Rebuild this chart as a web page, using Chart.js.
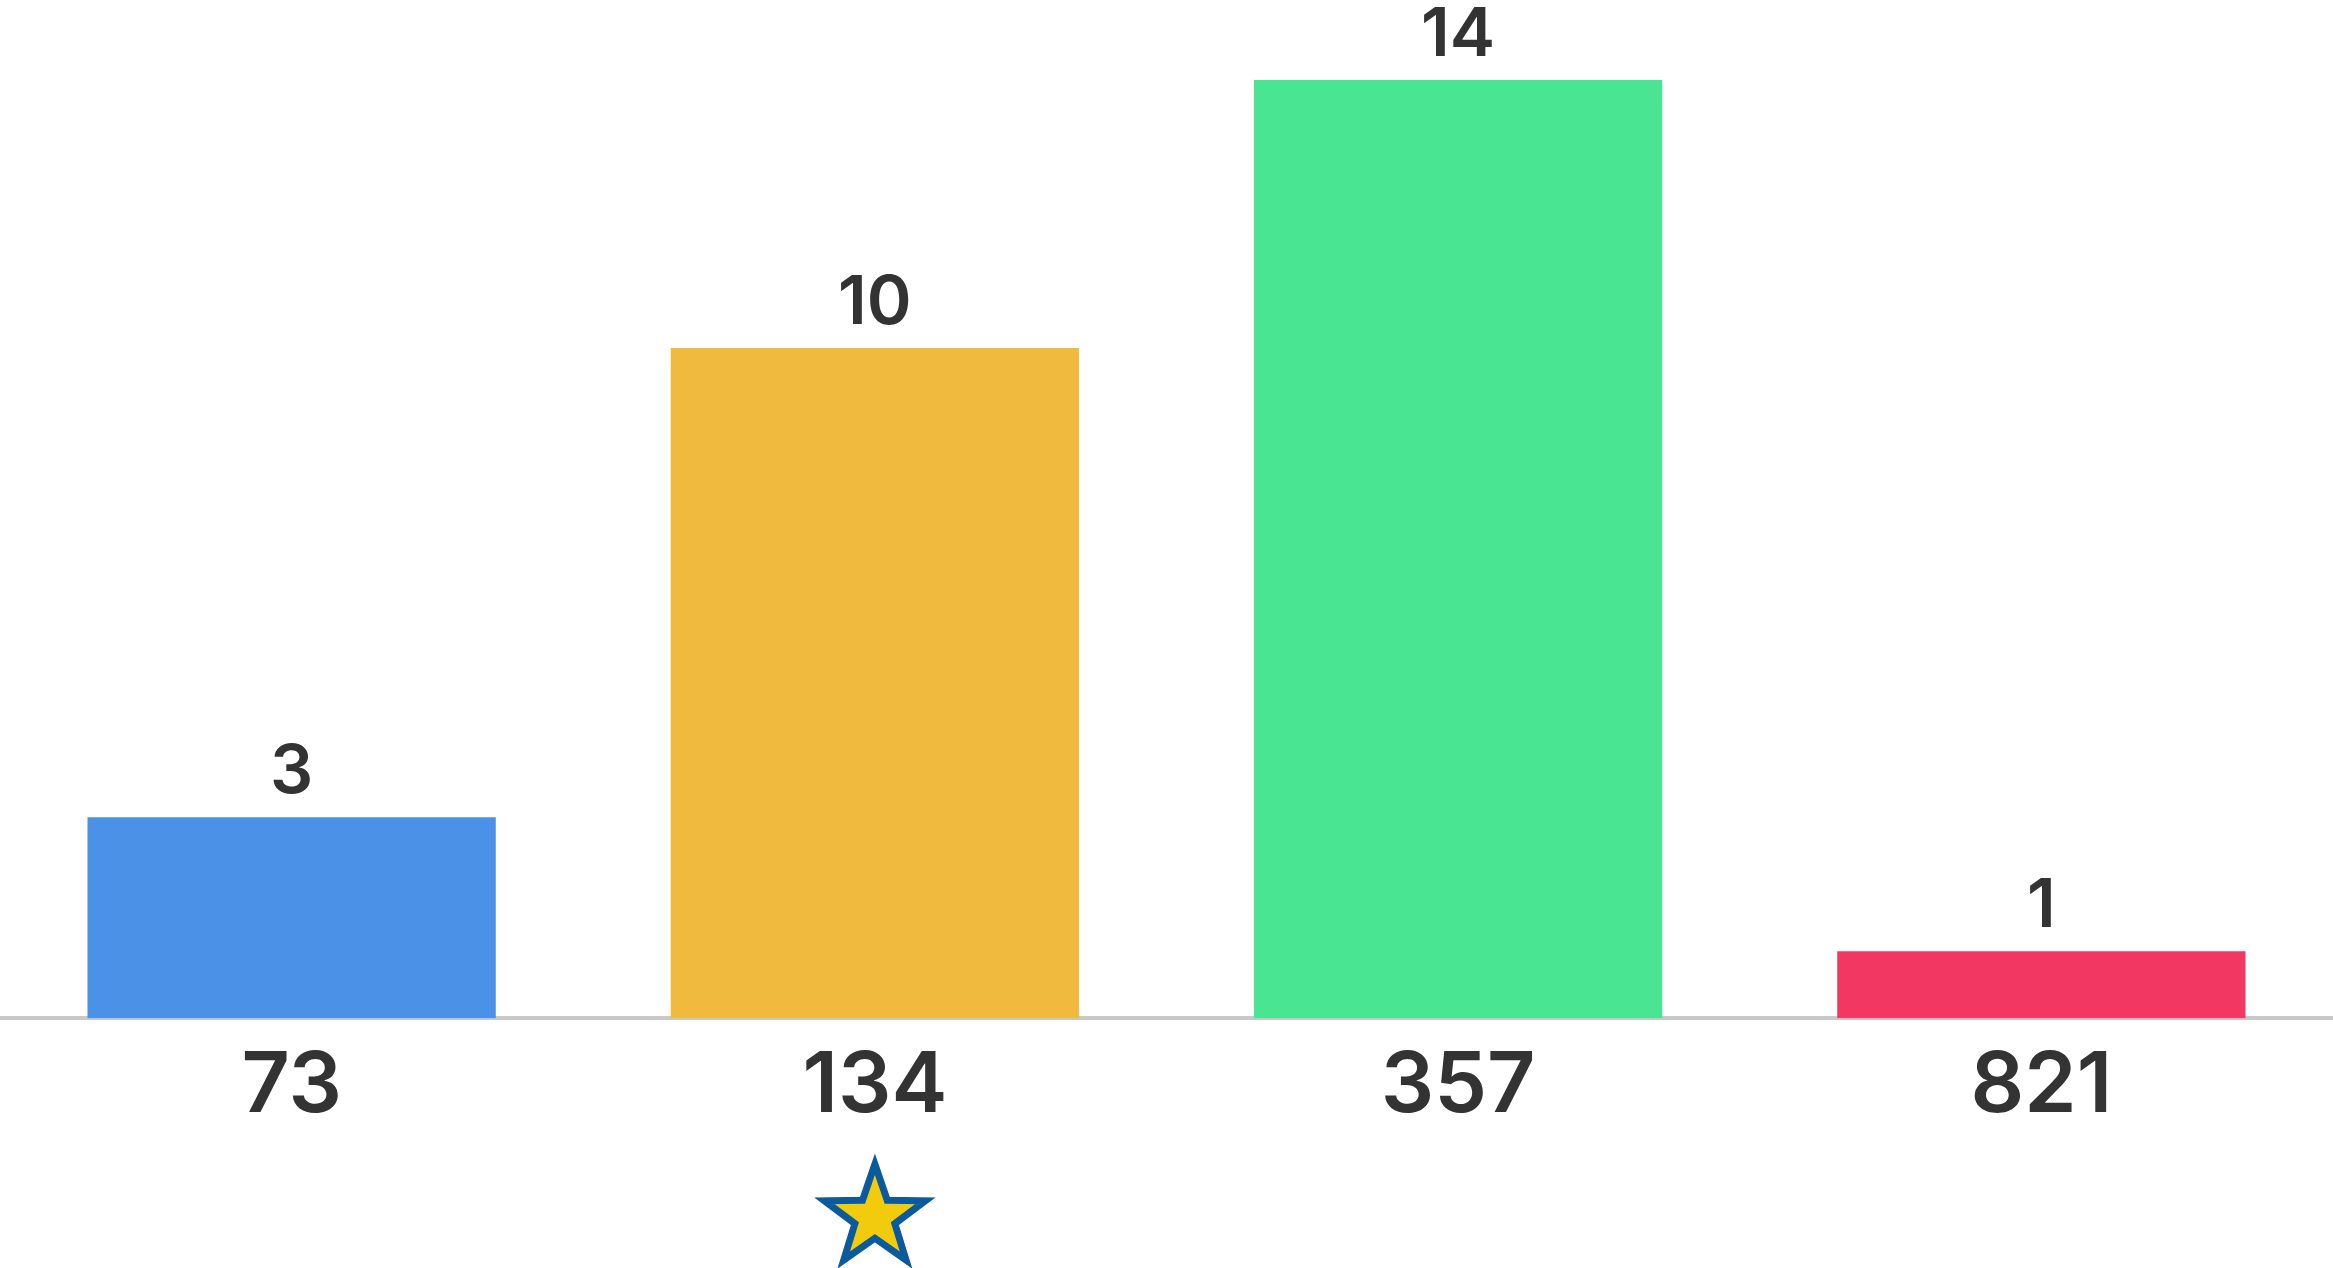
<!DOCTYPE html>
<html>
<head>
<meta charset="utf-8">
<title>Bar chart</title>
<script src="https://cdn.jsdelivr.net/npm/chart.js@4"></script>
<style>
    html, body { margin: 0; padding: 0; background: #ffffff; }
    #wrap { width: 2333px; height: 1268px; }
</style>
</head>
<body>
<div id="wrap"><canvas id="chart"></canvas></div>
<script>
// chart values
const categories = ["73", "134", "357", "821"];
const counts = [3, 10, 14, 1];
const barColors = ["#4a91e7", "#efba3e", "#49e593", "#f23862"];
const starredCategory = "134";

const FONT = "Inter, 'Noto Sans', sans-serif";

// numbers on top of the bars
const valueLabels = {
    id: "valueLabels",
    afterDatasetsDraw(chart) {
        const ctx = chart.ctx;
        const meta = chart.getDatasetMeta(0);
        ctx.save();
        ctx.font = "600 68px " + FONT;
        ctx.fillStyle = "#333333";
        ctx.textAlign = "center";
        ctx.textBaseline = "alphabetic";
        meta.data.forEach((bar, i) => {
            ctx.fillText(String(counts[i]), bar.x, bar.y - 24);
        });
        ctx.restore();
    }
};

// star under the highlighted category
const starMarker = {
    id: "starMarker",
    afterDraw(chart) {
        const idx = categories.indexOf(starredCategory);
        if (idx < 0) return;
        const ctx = chart.ctx;
        const cx = chart.scales.x.getPixelForValue(idx);
        const cy = chart.chartArea.bottom + 199;
        const outer = 53, inner = 21;
        ctx.save();
        ctx.beginPath();
        for (let k = 0; k < 10; k++) {
            const r = k % 2 === 0 ? outer : inner;
            const a = -Math.PI / 2 + k * Math.PI / 5;
            const px = cx + r * Math.cos(a);
            const py = cy + r * Math.sin(a);
            if (k === 0) ctx.moveTo(px, py); else ctx.lineTo(px, py);
        }
        ctx.closePath();
        ctx.fillStyle = "#f2cc0c";
        ctx.fill();
        ctx.lineWidth = 7;
        ctx.lineJoin = "miter";
        ctx.strokeStyle = "#0b5a9e";
        ctx.stroke();
        ctx.restore();
    }
};

new Chart(document.getElementById("chart"), {
    type: "bar",
    data: {
        labels: categories,
        datasets: [{
            data: counts,
            backgroundColor: barColors,
            borderWidth: 0,
            categoryPercentage: 1.0,
            barPercentage: 0.7
        }]
    },
    options: {
        responsive: true,
        maintainAspectRatio: false,
        animation: false,
        layout: {
            padding: { top: 13, bottom: 113, left: 0, right: 0 }
        },
        plugins: {
            legend: { display: false },
            tooltip: { enabled: false }
        },
        scales: {
            x: {
                grid: { display: false, drawTicks: false },
                border: { display: true, color: "#c8c8c8", width: 4 },
                ticks: {
                    color: "#333333",
                    padding: 18,
                    font: { family: FONT, size: 84, weight: "600" }
                }
            },
            y: {
                display: false,
                min: 0,
                max: 15
            }
        }
    },
    plugins: [valueLabels, starMarker]
});
</script>
</body>
</html>
